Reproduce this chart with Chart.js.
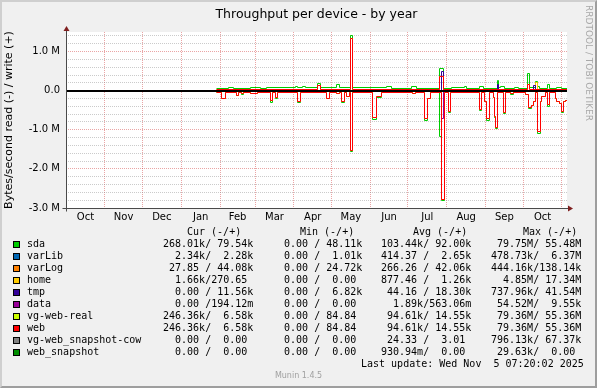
<!DOCTYPE html>
<html><head><meta charset="utf-8">
<script src="https://cdn.jsdelivr.net/npm/chart.js@4/dist/chart.umd.min.js"></script>
<style>
html,body{margin:0;padding:0;background:#F0F0F0;}
#wrap{position:relative;width:597px;height:388px;background:#F0F0F0;overflow:hidden;}
#frame{position:absolute;left:0;top:0;width:597px;height:388px;box-sizing:border-box;border-top:2px solid #CFCFCF;border-left:2px solid #CFCFCF;border-right:2px solid #9E9E9E;border-bottom:2px solid #9E9E9E;pointer-events:none;}
canvas{position:absolute;left:0;top:0;}
.m{position:absolute;white-space:pre;font-family:'DejaVu Sans Mono',monospace;font-size:10px;line-height:12px;color:#000;}
.sw{position:absolute;width:5px;height:5px;border:1px solid #000;}
#title{position:absolute;left:66px;width:501px;top:5px;text-align:center;font-family:'DejaVu Sans',sans-serif;font-size:12.5px;line-height:18px;color:#000;}
#rrd{position:absolute;left:584px;top:5px;writing-mode:vertical-rl;font-family:'DejaVu Sans',sans-serif;font-size:9px;line-height:10px;color:#A8A8A8;white-space:nowrap;}
#munin{position:absolute;left:0;width:597px;top:370px;text-align:center;font-family:'DejaVu Sans',sans-serif;font-size:8px;line-height:12px;color:#A0A0A0;}
</style></head>
<body><div id="wrap">
<canvas id="c" width="597" height="388"></canvas>
<div id="title">Throughput per device - by year</div>
<div id="rrd">RRDTOOL / TOBI OETIKER</div>
<div id="legend"></div>
<div id="munin">Munin 1.4.5</div>
<div id="frame"></div>
</div>
<script>
// ---- axis data ----
const monthStarts = [0,31,61,92,123,151,182,212,243,273,304,335,365,396]; // days since 1 Oct 2024
const monthLabels = ['Oct','Nov','Dec','Jan','Feb','Mar','Apr','May','Jun','Jul','Aug','Sep','Oct'];
const yMajorValues = [-3,-2,-1,0,1];
const yMajorLabels = ['-3.0 M','-2.0 M','-1.0 M','0.0','1.0 M'];

// ---- series: [day, MB/s] (read negative, write positive) ----
const sdaRead = [[120,-0.04],[124,-0.21],[127,-0.04],[136,-0.13],[138,-0.04],[140,-0.09],[142,-0.04],[147,-0.07],[153,-0.04],[163,-0.3],[165,-0.04],[167,-0.19],[169,-0.04],[185,-0.3],[187,-0.04],[208,-0.21],[210,-0.04],[216,-0.08],[218,-0.04],[220,-0.29],[222,-0.04],[224,-0.16],[226,-0.04],[227,-1.56],[229,-0.04],[245,-0.74],[248,-0.17],[252,-0.04],[277,-0.08],[279,-0.04],[286,-0.75],[289,-0.2],[291,-0.04],[298.5,-1.18],[300,-2.8],[302,-0.04],[305,-0.55],[307,-0.04],[330,-0.5],[332,-0.04],[334,-0.28],[336,-0.76],[338,-0.04],[341,-0.18],[342,-0.68],[343,-0.97],[344.5,-0.04],[349,-0.58],[350.5,-0.04],[355,-0.09],[357,-0.04],[366.5,-0.11],[369,-0.45],[372,-0.39],[373,-0.28],[374.5,-0.04],[376.5,-1.09],[378.5,-0.28],[380,-0.16],[382.5,-0.04],[384.5,-0.4],[386,-0.04],[390.5,-0.21],[392,-0.28],[394,-0.33],[396,-0.56],[397,-0.28],[398.5,-0.26],[400,-0.26]];
const sdaWrite = [[120,0.05],[130,0.085],[134,0.05],[147,0.08],[155,0.05],[160,0.075],[183,0.095],[185,0.075],[189,0.1],[191,0.07],[201,0.18],[203,0.07],[216,0.15],[218,0.07],[227,1.41],[229,0.085],[256,0.1],[260,0.06],[276,0.1],[280,0.06],[298.5,0.56],[301,0.06],[308,0.07],[318,0.1],[320,0.06],[330.5,0.11],[333,0.06],[344.5,0.26],[345.5,0.07],[347,0.1],[350,0.06],[358,0.09],[361,0.06],[368.5,0.44],[370,0.07],[374.5,0.24],[376.5,0.1],[378,0.06],[384.5,0.15],[386,0.06],[392,0.09],[396,0.06],[400,0.06]];
const webRead = [[120,-0.04],[124,-0.2],[127,-0.04],[136,-0.12],[138,-0.04],[140,-0.08],[142,-0.04],[147,-0.06],[153,-0.04],[163,-0.24],[165,-0.04],[167,-0.18],[169,-0.04],[185,-0.28],[187,-0.04],[208,-0.2],[210,-0.04],[216,-0.08],[218,-0.04],[220,-0.28],[222,-0.04],[224,-0.15],[226,-0.04],[227,-1.54],[229,-0.04],[245,-0.68],[248,-0.16],[252,-0.04],[277,-0.07],[279,-0.04],[286,-0.72],[289,-0.19],[291,-0.04],[300,-2.77],[302,-0.04],[305,-0.53],[307,-0.04],[330,-0.49],[332,-0.04],[334,-0.27],[336,-0.72],[338,-0.04],[341,-0.17],[342,-0.66],[343,-0.94],[344.5,-0.04],[349,-0.57],[350.5,-0.04],[355,-0.08],[357,-0.04],[366.5,-0.1],[369,-0.42],[372,-0.38],[373,-0.27],[374.5,-0.04],[376.5,-1.04],[378.5,-0.27],[380,-0.15],[382.5,-0.04],[384.5,-0.36],[386,-0.04],[390.5,-0.2],[392,-0.27],[394,-0.32],[396,-0.53],[397,-0.27],[398.5,-0.25],[400,-0.25]];
const webWrite = [[120,0.02],[201,0.12],[203,0.02],[227,1.33],[229,0.02],[298.5,0.36],[301,0.02],[368.5,0.15],[370,0.02],[400,0.02]];
const tmpRead = [[120,0],[400,0]];
const tmpWrite = [[120,0],[300,0.5],[301.5,0],[344.5,0.16],[345.5,0],[373,0.12],[374.5,0],[400,0]];
const dataRead = [[120,0],[300,-0.72],[301,0],[344.5,-0.05],[345.5,0],[400,0]];
const dataWrite = [[120,0],[400,0]];
const homeRead = [[120,0],[400,0]];
const homeWrite = [[120,0],[374.5,0.2],[376.5,0],[400,0]];
const varLibRead = [[120,0],[400,0]];
const varLibWrite = [[120,0],[400,0]];
const varLogRead = [[120,0],[400,0]];
const varLogWrite = [[120,0],[400,0]];
const cowRead = [[120,0],[400,0]];
const cowWrite = [[120,0],[400,0]];
const snapRead = [[120,0],[400,0]];
const snapWrite = [[120,0],[400,0]];
const zeroLine = [[0,0],[400,0]];

// ---- legend table ----
const legendNames = ['sda','varLib','varLog','home','tmp','data','vg-web-real','web','vg-web_snapshot-cow','web_snapshot'];
const legendColors = ['#00CC00','#0066B3','#FF8000','#FFCC00','#330099','#990099','#CCFF00','#FF0000','#808080','#008F00'];
const curVals = ['268.01k/ 79.54k','  2.34k/  2.28k',' 27.85 / 44.08k','  1.66k/270.65 ','  0.00 / 11.56k','  0.00 /194.12m','246.36k/  6.58k','246.36k/  6.58k','  0.00 /  0.00 ','  0.00 /  0.00 '];
const minVals = ['  0.00 / 48.11k','  0.00 /  1.01k','  0.00 / 24.72k','  0.00 /  0.00 ','  0.00 /  6.82k','  0.00 /  0.00 ','  0.00 / 84.84 ','  0.00 / 84.84 ','  0.00 /  0.00 ','  0.00 /  0.00 '];
const avgVals = ['103.44k/ 92.00k','414.37 /  2.65k','266.26 / 42.06k','877.46 /  1.26k',' 44.16 / 18.30k','  1.89k/563.06m',' 94.61k/ 14.55k',' 94.61k/ 14.55k',' 24.33 /  3.01 ','930.94m/  0.00 '];
const maxVals = [' 79.75M/ 55.48M','478.73k/  6.37M','444.16k/138.14k','  4.85M/ 17.34M','737.96k/ 41.54M',' 54.52M/  9.55k',' 79.36M/ 55.36M',' 79.36M/ 55.36M','796.13k/ 67.37k',' 29.63k/  0.00 '];
const headers = [['Cur (-/+)',187],['Min (-/+)',300],['Avg (-/+)',413],['Max (-/+)',523]];
const columnX = [163, 272, 381, 491];
const lastUpdate = 'Last update: Wed Nov  5 07:20:02 2025';

(function(){
  const L = document.getElementById('legend');
  let h = '';
  headers.forEach(([t,x]) => { h += `<div class="m" style="left:${x}px;top:226px">${t}</div>`; });
  legendNames.forEach((n,i) => {
    const top = 238 + i*12;
    h += `<div class="sw" style="left:13px;top:${top+3}px;background:${legendColors[i]}"></div>`;
    h += `<div class="m" style="left:27px;top:${top}px">${n}</div>`;
    [curVals, minVals, avgVals, maxVals].forEach((col, k) => {
      h += `<div class="m" style="left:${columnX[k]}px;top:${top}px">${col[i]}</div>`;
    });
  });
  h += `<div class="m" style="left:361px;top:358px">${lastUpdate}</div>`;
  L.innerHTML = h;
})();

const pts = a => a.map(([x,y]) => ({x, y}));
const ds = (label, arr, color, w) => ({label, data: pts(arr), borderColor: color, backgroundColor: color, borderWidth: w || 1, stepped: true, fill: false, pointRadius: 0, tension: 0});

// first dataset is drawn on top
const datasets = [
  ds('zero', zeroLine, '#000000', 2),
  ds('web_snapshot read', snapRead, '#008F00'), ds('web_snapshot write', snapWrite, '#008F00'),
  ds('cow read', cowRead, '#808080'), ds('cow write', cowWrite, '#808080'),
  ds('web read', webRead, '#FF0000'), ds('web write', webWrite, '#FF0000'),
  ds('vg-web-real read', webRead, '#CCFF00'), ds('vg-web-real write', webWrite, '#CCFF00'),
  ds('data read', dataRead, '#990099'), ds('data write', dataWrite, '#990099'),
  ds('tmp read', tmpRead, '#330099'), ds('tmp write', tmpWrite, '#330099'),
  ds('home read', homeRead, '#FFCC00'), ds('home write', homeWrite, '#FFCC00'),
  ds('varLog read', varLogRead, '#FF8000'), ds('varLog write', varLogWrite, '#FF8000'),
  ds('varLib read', varLibRead, '#0066B3'), ds('varLib write', varLibWrite, '#0066B3'),
  ds('sda read', sdaRead, '#00CC00'), ds('sda write', sdaWrite, '#00CC00')
];

const monthMids = monthStarts.slice(0,-1).map((s,i) => (s + monthStarts[i+1]) / 2);
const yTicks = [];
for (let i = -15; i <= 7; i++) yTicks.push(i / 5);
const isMajor = v => Math.abs(v - Math.round(v)) < 1e-9;
const MINOR = 'rgba(140,140,140,0.45)';
const MAJOR = 'rgba(205,40,40,0.42)';

// snap line vertices to the pixel grid (as rrdtool does) so 1px lines stay crisp
const snap = {
  id: 'pixelSnap',
  beforeDatasetsDraw(chart) {
    chart.getSortedVisibleDatasetMetas().forEach(meta => {
      const w = chart.data.datasets[meta.index].borderWidth || 1;
      meta.data.forEach(p => {
        if (w % 2 === 1) { p.x = Math.floor(p.x) + 0.5; p.y = Math.floor(p.y) + 0.5; }
        else { p.x = Math.round(p.x); p.y = Math.round(p.y); }
      });
      if (meta.dataset) meta.dataset._path = undefined;
    });
  }
};

const frame = {
  id: 'rrdFrame',
  beforeDraw(chart) {
    const {ctx, chartArea: a} = chart;
    ctx.save(); ctx.fillStyle = '#FFFFFF';
    ctx.fillRect(a.left, a.top, a.right - a.left, a.bottom - a.top);
    ctx.restore();
  },
  afterDraw(chart) {
    const {ctx, chartArea: a} = chart;
    const x0 = Math.round(a.left) + 0.5, y0 = Math.round(a.bottom) + 0.5;
    ctx.save();
    ctx.strokeStyle = '#4A4A4A'; ctx.lineWidth = 1;
    ctx.beginPath(); ctx.moveTo(x0, y0 + 3); ctx.lineTo(x0, a.top - 2); ctx.stroke();
    ctx.beginPath(); ctx.moveTo(x0 - 4, y0); ctx.lineTo(a.right + 2, y0); ctx.stroke();
    ctx.fillStyle = '#7F1F1F';
    ctx.beginPath(); ctx.moveTo(x0 - 3, a.top - 1); ctx.lineTo(x0 + 3, a.top - 1); ctx.lineTo(x0, a.top - 6); ctx.closePath(); ctx.fill();
    ctx.beginPath(); ctx.moveTo(a.right + 1, y0 - 3); ctx.lineTo(a.right + 1, y0 + 3); ctx.lineTo(a.right + 6, y0); ctx.closePath(); ctx.fill();
    ctx.restore();
  }
};

new Chart(document.getElementById('c'), {
  type: 'line',
  data: { datasets },
  plugins: [frame, snap],
  options: {
    responsive: false, animation: false, devicePixelRatio: 1,
    layout: { padding: { left: 0, right: 30, top: 32, bottom: 160 } },
    plugins: { legend: { display: false }, tooltip: { enabled: false }, title: { display: false } },
    elements: { point: { radius: 0 } },
    scales: {
      x: {
        type: 'linear', min: 0, max: 400, position: 'bottom',
        afterBuildTicks: s => { s.ticks = monthStarts.map(v => ({ value: v })); },
        ticks: { display: false },
        grid: { color: MAJOR, drawTicks: false, lineWidth: 1 },
        border: { display: false, dash: [1, 1] },
        afterFit: s => { s.height = 0; }
      },
      xl: {
        type: 'linear', min: 0, max: 400, position: 'bottom',
        afterBuildTicks: s => { s.ticks = monthMids.map(v => ({ value: v })); },
        ticks: { callback: (v, i) => monthLabels[i], autoSkip: false, maxRotation: 0, color: '#000', padding: 3, font: { family: 'DejaVu Sans', size: 10 } },
        grid: { display: false, drawTicks: false },
        border: { display: false },
        afterFit: s => { s.height = 20; }
      },
      y: {
        type: 'linear', min: -3, max: 1.5,
        afterBuildTicks: s => { s.ticks = yTicks.map(v => ({ value: v })); },
        ticks: { autoSkip: false, color: '#000', padding: 6, font: { family: 'DejaVu Sans', size: 10 },
          callback: v => { const k = yMajorValues.findIndex(m => Math.abs(m - v) < 1e-9); return k >= 0 ? yMajorLabels[k] : ''; } },
        grid: { color: c => isMajor(c.tick.value) ? MAJOR : MINOR, drawTicks: false, lineWidth: 1 },
        border: { display: false, dash: [1, 1] },
        title: { display: true, text: 'Bytes/second read (-) / write (+)', color: '#000', font: { family: 'DejaVu Sans', size: 11 }, padding: { top: 3, bottom: 0 } },
        afterFit: s => { s.width = 66; }
      }
    }
  }
});
</script>
</body></html>
